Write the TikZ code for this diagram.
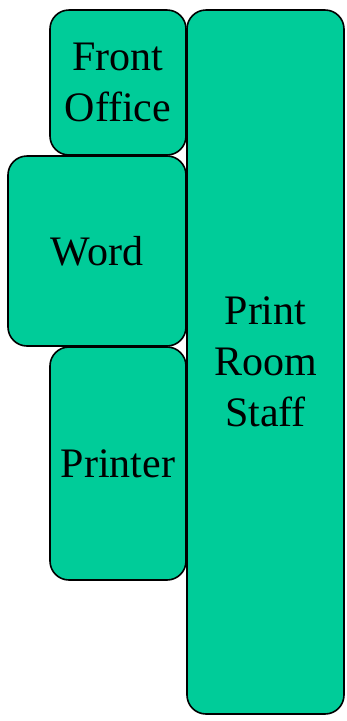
\documentclass[tikz,border=0pt]{standalone}
\usepackage{fontspec}
\setmainfont{Liberation Serif}
\newfontfamily\boxfont{Liberation Serif}
\definecolor{boxfill}{RGB}{0,204,153}
\begin{document}
\begin{tikzpicture}[x=1pt,y=-1pt,
  box/.style={draw=black,line width=1.6pt,fill=boxfill,rounded corners=19pt,
    inner sep=0pt,align=center,font=\boxfont\fontsize{42}{51}\selectfont}]
\useasboundingbox (0,0) rectangle (347,721);
\node[box,minimum width=157pt,minimum height=704pt] (staff) at (265.5,362) {Print\\Room\\Staff};
\node[box,minimum width=136pt,minimum height=145pt] (front) at (118,82.5) {Front\\Office};
\node[box,minimum width=178pt,minimum height=190pt] (word) at (97,251) {Word};
\node[box,minimum width=136pt,minimum height=233pt] (printer) at (118,463.5) {Printer};
\end{tikzpicture}
\end{document}
